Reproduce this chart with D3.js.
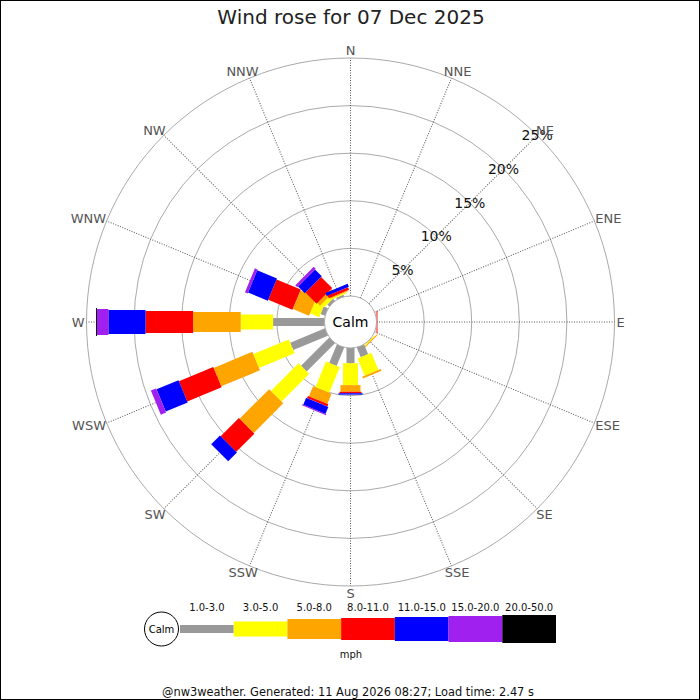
<!DOCTYPE html>
<html>
<head>
<meta charset="utf-8">
<script src="https://cdn.jsdelivr.net/npm/d3@7"></script>
<style>
  body { margin: 0; background: #fff; }
  svg { display: block; font-family: "DejaVu Sans", sans-serif; }
</style>
</head>
<body>
<div id="windrose"></div>
<script>
// Directions, clockwise from north
var directions = ["N","NNE","NE","ENE","E","ESE","SE","SSE","S","SSW","SW","WSW","W","WNW","NW","NNW"];

// Speed classes (mph) and their colours
var speedClasses = ["1.0-3.0","3.0-5.0","5.0-8.0","8.0-11.0","11.0-15.0","15.0-20.0","20.0-50.0"];
var classColors = ["#999999","#ffff00","#ffa500","#ff0000","#0000ff","#a020f0","#000000"];

// Percent of the day per direction, one array per speed class
//               N  NNE  NE  ENE   E   ESE   SE   SSE   S    SSW  SW   WSW   W    WNW   NW   NNW
var pct1to3   = [0, 0,   0,  0,   0,   0,   0.05, 1.1, 1.6, 2.1, 4.2, 3.95, 5.4, 0.5,  0.3,  0.2];
var pct3to5   = [0, 0,   0,  0,   0,   0,   0.1,  1.95,2.3, 2.9, 4.1, 4.05, 3.4, 1.05, 0.45, 0.15];
var pct5to8   = [0, 0,   0,  0,   0,   0,   0.1,  0.2, 0.7, 1.15,4.4, 4.4,  5.0, 1.85, 0.4,  0.1];
var pct8to11  = [0, 0,   0,  0,   0.1, 0,   0,    0,   0.15,0.25,2.7, 3.9,  5.0, 2.75, 1.65, 0.3];
var pct11to15 = [0, 0,   0,  0,   0,   0,   0,    0,   0.15,0.8, 1.3, 2.5,  3.9, 2.25, 1.0,  0.35];
var pct15to20 = [0, 0,   0,  0,   0,   0,   0,    0,   0,   0.1, 0,   0.6,  1.2, 0.3,  0.3,  0];
var pct20to50 = [0, 0,   0,  0,   0,   0,   0,    0,   0,   0,   0,   0,    0.1, 0,    0,    0];

var radialTicks = [5, 10, 15, 20, 25];
var titleText = "Wind rose for 07 Dec 2025";
var unitText = "mph";
var footerText = "@nw3weather. Generated: 11 Aug 2026 08:27; Load time: 2.47 s";

var series = [pct1to3, pct3to5, pct5to8, pct8to11, pct11to15, pct15to20, pct20to50];

// Layout
var w = 700, h = 700;
var cx = 350.5, cy = 322;
var calmR = 26, outerR = 264;
var legWidths = [8, 15, 20, 22, 24, 26, 28];

var svg = d3.select("#windrose")
  .append("svg")
    .attr("width", w)
    .attr("height", h);

svg.append("rect")
  .attr("x", 0.5).attr("y", 0.5)
  .attr("width", w - 1).attr("height", h - 1)
  .attr("fill", "#fff")
  .attr("stroke", "#000");

// Radial scale: percent -> distance from centre
var rScale = d3.scaleLinear().domain([0, 25]).range([calmR, outerR]);
var angleScale = d3.scaleBand().domain(directions).range([0, 360]);
function angleOf(d) { return angleScale(d); }

var plot = svg.append("g").attr("transform", "translate(" + cx + "," + cy + ")");

// Grid circles
plot.selectAll("circle.grid").data(radialTicks).enter().append("circle")
  .attr("class", "grid")
  .attr("r", function(d) { return rScale(d); })
  .attr("fill", "none")
  .attr("stroke", "#aaaaaa")
  .attr("stroke-width", 1);

// Spokes
plot.selectAll("line.spoke").data(directions).enter().append("line")
  .attr("class", "spoke")
  .attr("x1", 0).attr("y1", -calmR)
  .attr("x2", 0).attr("y2", -outerR)
  .attr("transform", function(d) { return "rotate(" + angleOf(d) + ")"; })
  .attr("stroke", "#555")
  .attr("stroke-width", 1)
  .attr("stroke-dasharray", "1,1.5");

// Legs: stacked segments for each direction
var legs = plot.selectAll("g.leg").data(directions).enter().append("g")
  .attr("class", "leg")
  .attr("transform", function(d) { return "rotate(" + angleOf(d) + ")"; });

legs.each(function(d, i) {
  var g = d3.select(this);
  var cum = 0;
  series.forEach(function(s, k) {
    var v = s[i];
    if (v <= 0) return;
    var r0 = rScale(cum), r1 = rScale(cum + v);
    cum += v;
    g.append("rect")
      .attr("x", -legWidths[k] / 2)
      .attr("y", -r1)
      .attr("width", legWidths[k])
      .attr("height", r1 - r0)
      .attr("fill", classColors[k]);
  });
});

// Calm circle
plot.append("circle")
  .attr("r", calmR)
  .attr("fill", "#fff")
  .attr("stroke", "#aaaaaa");
plot.append("text")
  .attr("x", 0).attr("y", 0)
  .attr("dy", "0.35em")
  .attr("text-anchor", "middle")
  .attr("font-size", "14px")
  .attr("fill", "#000")
  .text("Calm");

// Radial tick labels along the NE spoke
var tickAngle = angleOf("NE") * Math.PI / 180;
plot.selectAll("text.rtick").data(radialTicks).enter().append("text")
  .attr("class", "rtick")
  .attr("x", function(d) { return rScale(d) * Math.sin(tickAngle); })
  .attr("y", function(d) { return -rScale(d) * Math.cos(tickAngle); })
  .attr("dy", "0.35em")
  .attr("text-anchor", "middle")
  .attr("font-size", "14px")
  .attr("fill", "#111")
  .text(function(d) { return d + "%"; });

// Direction labels
plot.selectAll("text.dir").data(directions).enter().append("text")
  .attr("class", "dir")
  .attr("text-anchor", "middle")
  .attr("dy", "0.35em")
  .attr("font-size", "13px")
  .attr("fill", "#555")
  .text(function(d) { return d; })
  .each(function(d) {
    var a = angleOf(d) * Math.PI / 180;
    var ux = Math.sin(a), uy = -Math.cos(a);
    var tw = this.getComputedTextLength();
    var R = 266;
    d3.select(this)
      .attr("x", ux * R + ux * tw / 2)
      .attr("y", uy * R + uy * 5.5);
  });

// Title
svg.append("text")
  .attr("x", 351).attr("y", 24)
  .attr("text-anchor", "middle")
  .attr("font-size", "20px")
  .attr("fill", "#222")
  .text(titleText);

// Legend
var legendY = 629;
var legendX = d3.scaleBand().domain(speedClasses).range([180, 556]);

svg.append("circle")
  .attr("cx", 161.5).attr("cy", legendY)
  .attr("r", 17)
  .attr("fill", "#fff")
  .attr("stroke", "#000");
svg.append("text")
  .attr("x", 161.5).attr("y", legendY)
  .attr("dy", "0.35em")
  .attr("text-anchor", "middle")
  .attr("font-size", "10px")
  .text("Calm");

svg.selectAll("rect.legend").data(speedClasses).enter().append("rect")
  .attr("class", "legend")
  .attr("x", function(d) { return legendX(d); })
  .attr("y", function(d, i) { return legendY - legWidths[i] / 2; })
  .attr("width", legendX.bandwidth())
  .attr("height", function(d, i) { return legWidths[i]; })
  .attr("fill", function(d, i) { return classColors[i]; });

svg.selectAll("text.legend").data(speedClasses).enter().append("text")
  .attr("class", "legend")
  .attr("x", function(d) { return legendX(d) + legendX.bandwidth() / 2; })
  .attr("y", 611)
  .attr("text-anchor", "middle")
  .attr("font-size", "10px")
  .attr("fill", "#111")
  .text(function(d) { return d; });

svg.append("text")
  .attr("x", 351).attr("y", 658)
  .attr("text-anchor", "middle")
  .attr("font-size", "10px")
  .attr("fill", "#111")
  .text(unitText);

// Footer
svg.append("text")
  .attr("x", 348).attr("y", 696)
  .attr("text-anchor", "middle")
  .attr("font-size", "11.4px")
  .attr("fill", "#111")
  .text(footerText);
</script>
</body>
</html>
